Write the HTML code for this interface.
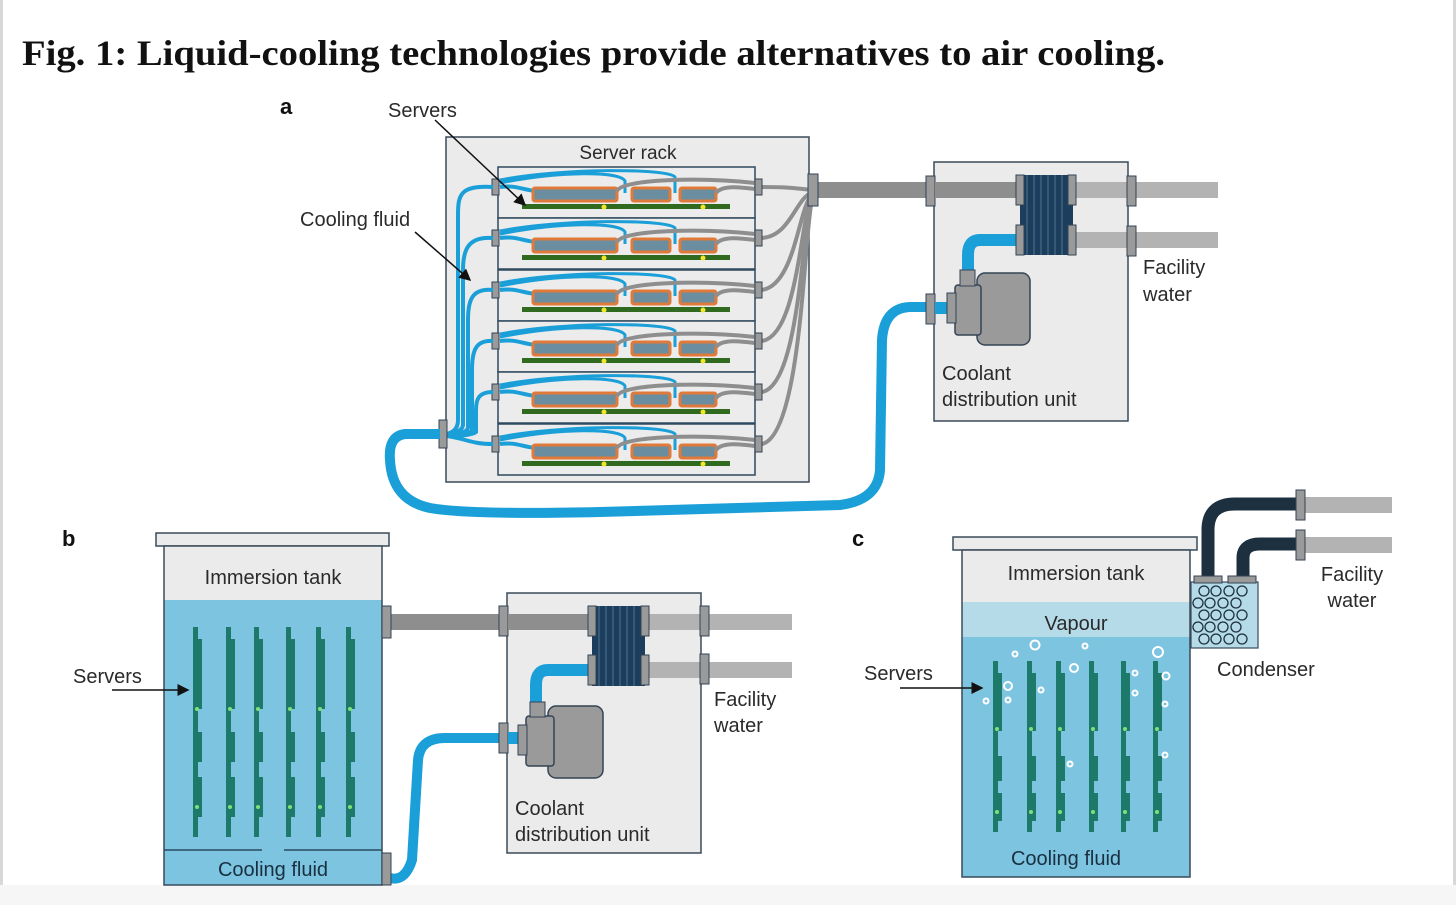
<!DOCTYPE html>
<html><head><meta charset="utf-8"><style>
html,body{margin:0;padding:0;background:#fff;}
svg{display:block;}
text{font-family:"Liberation Sans",sans-serif;fill:#2a2a2a;}
</style></head><body>
<svg width="1456" height="905" viewBox="0 0 1456 905" xmlns="http://www.w3.org/2000/svg">
<defs>
<marker id="ar" markerWidth="8" markerHeight="8" refX="7" refY="4" orient="auto"><path d="M0,0 L8,4 L0,8 Z" fill="#111"/></marker>
<g id="row">
 <rect x="498" y="0" width="257" height="51" fill="#ececec" stroke="#2e4a5e" stroke-width="1.5"/>
 <rect x="522" y="37" width="208" height="5" fill="#2f6a1f"/>
 <path d="M500,16 C560,4 620,4 625,14 L625,26 M500,13 C560,1 668,1 675,10 L675,26" fill="none" stroke="#1b9fd8" stroke-width="3"/>
 <path d="M500,20 C515,18 520,22 535,24" fill="none" stroke="#1b9fd8" stroke-width="4"/>
 <rect x="533" y="21" width="84" height="13" fill="#6a8ea0" stroke="#e07a3a" stroke-width="3" rx="2"/>
 <rect x="632" y="21" width="38" height="13" fill="#6a8ea0" stroke="#e07a3a" stroke-width="3" rx="2"/>
 <rect x="680" y="21" width="36" height="13" fill="#6a8ea0" stroke="#e07a3a" stroke-width="3" rx="2"/>
 <path d="M617,24 C622,12 700,10 755,16 M716,26 C722,18 740,20 755,22" fill="none" stroke="#8e8e8e" stroke-width="4"/>
 <circle cx="604" cy="40" r="2.5" fill="#f2e62a"/><circle cx="703" cy="40" r="2.5" fill="#f2e62a"/>
 <rect x="492" y="12" width="7" height="16" fill="#9a9a9a" stroke="#345" stroke-width="1"/>
 <rect x="755" y="12" width="7" height="16" fill="#9a9a9a" stroke="#345" stroke-width="1"/>
</g>
<g id="board">
 <rect x="0" y="0" width="5" height="210" fill="#1d7a6a"/>
 <rect x="0" y="12" width="9" height="70" fill="#1d7a6a"/>
 <rect x="0" y="105" width="9" height="30" fill="#1d7a6a"/>
 <rect x="0" y="150" width="9" height="40" fill="#1d7a6a"/>
 <circle cx="4" cy="82" r="2" fill="#7ee07a"/><circle cx="4" cy="180" r="2" fill="#7ee07a"/>
</g>
<g id="board2">
 <rect x="0" y="0" width="5" height="171" fill="#1d7a6a"/>
 <rect x="0" y="12" width="9" height="58" fill="#1d7a6a"/>
 <rect x="0" y="95" width="9" height="25" fill="#1d7a6a"/>
 <rect x="0" y="132" width="9" height="28" fill="#1d7a6a"/>
 <circle cx="4" cy="68" r="2" fill="#7ee07a"/><circle cx="4" cy="151" r="2" fill="#7ee07a"/>
</g>
</defs>
<rect x="0" y="0" width="3" height="905" fill="#d8d8d8"/>
<rect x="1453" y="0" width="3" height="905" fill="#d8d8d8"/>
<rect x="0" y="885" width="1456" height="20" fill="#f6f6f6"/>
<text x="22" y="65" style="font-family:'Liberation Serif',serif;font-weight:bold;font-size:36px;fill:#111" textLength="1143" lengthAdjust="spacingAndGlyphs">Fig. 1: Liquid-cooling technologies provide alternatives to air cooling.</text>

<!-- Panel a -->
<text x="280" y="114" style="font-weight:bold;font-size:22px;fill:#111">a</text>
<text x="388" y="117" font-size="20">Servers</text>
<text x="300" y="226" font-size="20">Cooling fluid</text>
<rect x="446" y="137" width="363" height="345" fill="#ebebeb" stroke="#3a4a5a" stroke-width="1.5"/>
<text x="628" y="159" font-size="19" text-anchor="middle">Server rack</text>
<g fill="none" stroke="#8e8e8e" stroke-width="4">
<path d="M762,187 C785,187 795,188 812,190"/>
<path d="M762,238 C790,236 795,200 812,192"/>
<path d="M762,290 C795,285 798,210 812,194"/>
<path d="M762,341 C798,335 800,220 812,196"/>
<path d="M762,392 C800,385 802,225 812,198"/>
<path d="M762,444 C802,435 804,230 812,200"/>
</g>
<use href="#row" y="167"/><use href="#row" y="218"/><use href="#row" y="270"/>
<use href="#row" y="321"/><use href="#row" y="372"/><use href="#row" y="424"/>
<g fill="none" stroke="#1b9fd8" stroke-width="4">
<path d="M493,187 C460,185 458,195 458,215 L458,420 Q458,432 446,434"/>
<path d="M493,238 C468,236 463,250 463,270 L463,425 Q462,433 446,434"/>
<path d="M493,290 C472,288 468,300 468,320 L468,428 Q466,434 446,435"/>
<path d="M493,341 C476,340 472,350 472,370 L472,430 Q470,435 446,435"/>
<path d="M493,392 C478,392 476,400 476,410 L476,432 Q472,436 446,436"/>
<path d="M493,444 C470,444 465,438 446,436"/>
</g>
<rect x="439" y="420" width="8" height="28" fill="#9a9a9a" stroke="#345"/>
<path d="M440,434 L405,434 Q388,436 390,460 Q392,500 430,508 Q470,515 600,512 L840,505 Q878,500 880,470 L882,340 Q884,308 910,307 L932,307" fill="none" stroke="#1b9fd8" stroke-width="10"/>
<line x1="435" y1="120" x2="525" y2="205" stroke="#111" stroke-width="1.5" marker-end="url(#ar)"/>
<line x1="415" y1="232" x2="470" y2="280" stroke="#111" stroke-width="1.5" marker-end="url(#ar)"/>
<rect x="815" y="182" width="115" height="16" fill="#8e8e8e"/>
<rect x="808" y="174" width="10" height="32" fill="#9a9a9a" stroke="#345"/>
<rect x="934" y="162" width="194" height="259" fill="#ebebeb" stroke="#3a4a5a" stroke-width="1.5"/>
<rect x="926" y="176" width="9" height="30" fill="#9a9a9a" stroke="#345"/>
<rect x="935" y="182" width="85" height="16" fill="#8e8e8e"/>
<rect x="1075" y="182" width="143" height="16" fill="#b3b3b3"/>
<rect x="1075" y="232" width="143" height="16" fill="#b3b3b3"/>
<rect x="1127" y="176" width="9" height="30" fill="#9a9a9a" stroke="#345"/>
<rect x="1127" y="226" width="9" height="30" fill="#9a9a9a" stroke="#345"/>
<path d="M1020,240 L980,240 Q968,240 968,255 L968,275" fill="none" stroke="#1b9fd8" stroke-width="12"/>
<rect x="1020" y="175" width="53" height="80" fill="#1d3d5c"/>
<g stroke="#4d7596" stroke-width="1"><line x1="1027" y1="175" x2="1027" y2="255"/><line x1="1034" y1="175" x2="1034" y2="255"/><line x1="1041" y1="175" x2="1041" y2="255"/><line x1="1048" y1="175" x2="1048" y2="255"/><line x1="1055" y1="175" x2="1055" y2="255"/><line x1="1062" y1="175" x2="1062" y2="255"/></g>
<rect x="1016" y="175" width="8" height="30" fill="#9a9a9a" stroke="#345"/><rect x="1068" y="175" width="8" height="30" fill="#9a9a9a" stroke="#345"/>
<rect x="1016" y="225" width="8" height="30" fill="#9a9a9a" stroke="#345"/><rect x="1068" y="225" width="8" height="30" fill="#9a9a9a" stroke="#345"/>
<rect x="926" y="294" width="9" height="30" fill="#9a9a9a" stroke="#345"/>
<rect x="935" y="302" width="16" height="12" fill="#1b9fd8"/>
<rect x="977" y="273" width="53" height="72" rx="8" fill="#9a9a9a" stroke="#345" stroke-width="1.5"/>
<rect x="955" y="285" width="26" height="50" rx="3" fill="#9a9a9a" stroke="#345" stroke-width="1.5"/>
<rect x="960" y="270" width="15" height="16" fill="#9a9a9a" stroke="#345"/>
<rect x="947" y="293" width="9" height="30" fill="#9a9a9a" stroke="#345"/>
<text x="1143" y="274" font-size="20">Facility</text><text x="1143" y="301" font-size="20">water</text>
<text x="942" y="380" font-size="20">Coolant</text><text x="942" y="406" font-size="20">distribution unit</text>

<!-- Panel b -->
<text x="62" y="546" style="font-weight:bold;font-size:22px;fill:#111">b</text>
<rect x="156" y="533" width="233" height="13" fill="#ebebeb" stroke="#3a4a5a" stroke-width="1.5"/>
<rect x="164" y="546" width="218" height="54" fill="#ebebeb"/>
<rect x="164" y="600" width="218" height="285" fill="#7cc4e0"/>
<rect x="164" y="546" width="218" height="339" fill="none" stroke="#3a4a5a" stroke-width="1.5"/>
<path d="M164,850 L262,850 M284,850 L382,850" stroke="#2a4a60" stroke-width="1.5"/>
<text x="273" y="584" font-size="20" text-anchor="middle">Immersion tank</text>
<text x="273" y="876" font-size="20" text-anchor="middle" style="fill:#1a3040">Cooling fluid</text>
<use href="#board" x="193" y="627"/><use href="#board" x="226" y="627"/><use href="#board" x="254" y="627"/>
<use href="#board" x="286" y="627"/><use href="#board" x="316" y="627"/><use href="#board" x="346" y="627"/>
<text x="73" y="683" font-size="20">Servers</text>
<line x1="112" y1="690" x2="188" y2="690" stroke="#111" stroke-width="1.5" marker-end="url(#ar)"/>
<rect x="389" y="614" width="112" height="16" fill="#8e8e8e"/>
<rect x="382" y="606" width="9" height="32" fill="#9a9a9a" stroke="#345"/>
<path d="M390,878 Q405,882 412,860 L418,760 Q420,738 445,738 L500,738" fill="none" stroke="#1b9fd8" stroke-width="10"/>
<rect x="382" y="853" width="9" height="32" fill="#9a9a9a" stroke="#345"/>
<rect x="507" y="593" width="194" height="260" fill="#ebebeb" stroke="#3a4a5a" stroke-width="1.5"/>
<rect x="499" y="606" width="9" height="30" fill="#9a9a9a" stroke="#345"/>
<rect x="508" y="614" width="84" height="16" fill="#8e8e8e"/>
<rect x="645" y="614" width="147" height="16" fill="#b3b3b3"/>
<rect x="645" y="662" width="147" height="16" fill="#b3b3b3"/>
<rect x="700" y="606" width="9" height="30" fill="#9a9a9a" stroke="#345"/>
<rect x="700" y="654" width="9" height="30" fill="#9a9a9a" stroke="#345"/>
<path d="M592,670 L548,670 Q536,670 536,685 L536,706" fill="none" stroke="#1b9fd8" stroke-width="12"/>
<rect x="592" y="606" width="53" height="80" fill="#1d3d5c"/>
<g stroke="#4d7596" stroke-width="1"><line x1="599" y1="606" x2="599" y2="686"/><line x1="606" y1="606" x2="606" y2="686"/><line x1="613" y1="606" x2="613" y2="686"/><line x1="620" y1="606" x2="620" y2="686"/><line x1="627" y1="606" x2="627" y2="686"/><line x1="634" y1="606" x2="634" y2="686"/></g>
<rect x="588" y="606" width="8" height="30" fill="#9a9a9a" stroke="#345"/><rect x="641" y="606" width="8" height="30" fill="#9a9a9a" stroke="#345"/>
<rect x="588" y="655" width="8" height="30" fill="#9a9a9a" stroke="#345"/><rect x="641" y="655" width="8" height="30" fill="#9a9a9a" stroke="#345"/>
<rect x="499" y="723" width="9" height="30" fill="#9a9a9a" stroke="#345"/>
<rect x="508" y="732" width="14" height="12" fill="#1b9fd8"/>
<rect x="548" y="706" width="55" height="72" rx="8" fill="#9a9a9a" stroke="#345" stroke-width="1.5"/>
<rect x="526" y="716" width="28" height="50" rx="3" fill="#9a9a9a" stroke="#345" stroke-width="1.5"/>
<rect x="530" y="702" width="15" height="15" fill="#9a9a9a" stroke="#345"/>
<rect x="518" y="725" width="9" height="30" fill="#9a9a9a" stroke="#345"/>
<text x="714" y="706" font-size="20">Facility</text><text x="714" y="732" font-size="20">water</text>
<text x="515" y="815" font-size="20">Coolant</text><text x="515" y="841" font-size="20">distribution unit</text>

<!-- Panel c -->
<text x="852" y="546" style="font-weight:bold;font-size:22px;fill:#111">c</text>
<path d="M1208,580 L1208,530 Q1208,504 1235,504 L1300,504" fill="none" stroke="#1c3040" stroke-width="13"/>
<path d="M1243,580 L1243,558 Q1243,544 1260,544 L1300,544" fill="none" stroke="#1c3040" stroke-width="13"/>
<rect x="1302" y="497" width="90" height="16" fill="#b3b3b3"/>
<rect x="1302" y="537" width="90" height="16" fill="#b3b3b3"/>
<rect x="1296" y="490" width="9" height="30" fill="#9a9a9a" stroke="#345"/>
<rect x="1296" y="530" width="9" height="30" fill="#9a9a9a" stroke="#345"/>
<rect x="953" y="537" width="244" height="13" fill="#ebebeb" stroke="#3a4a5a" stroke-width="1.5"/>
<rect x="962" y="550" width="228" height="52" fill="#ebebeb"/>
<rect x="962" y="602" width="228" height="35" fill="#b6dbe8"/>
<rect x="962" y="637" width="228" height="240" fill="#7cc4e0"/>
<rect x="962" y="550" width="228" height="327" fill="none" stroke="#3a4a5a" stroke-width="1.5"/>
<text x="1076" y="580" font-size="20" text-anchor="middle">Immersion tank</text>
<text x="1076" y="630" font-size="20" text-anchor="middle">Vapour</text>
<text x="1066" y="865" font-size="20" text-anchor="middle" style="fill:#1a3040">Cooling fluid</text>
<use href="#board2" x="993" y="661"/>
<use href="#board2" x="1027" y="661"/><use href="#board2" x="1056" y="661"/>
<use href="#board2" x="1089" y="661"/><use href="#board2" x="1121" y="661"/><use href="#board2" x="1153" y="661"/>
<g fill="none" stroke="#fff" stroke-width="2">
<circle cx="1035" cy="645" r="4.5"/><circle cx="1015" cy="654" r="2.5"/><circle cx="1085" cy="646" r="2.5"/><circle cx="1158" cy="652" r="5"/>
<circle cx="1074" cy="668" r="4"/><circle cx="1008" cy="686" r="4"/><circle cx="986" cy="701" r="2.5"/><circle cx="1008" cy="700" r="2.5"/>
<circle cx="1041" cy="690" r="2.5"/><circle cx="1135" cy="673" r="2.5"/><circle cx="1135" cy="693" r="2.5"/><circle cx="1166" cy="676" r="3.5"/>
<circle cx="1165" cy="704" r="2.5"/><circle cx="1070" cy="764" r="2.5"/><circle cx="1165" cy="755" r="2.5"/>
</g>
<rect x="1191" y="582" width="67" height="66" fill="#b6dbe8" stroke="#3a4a5a" stroke-width="1.2"/>
<rect x="1194" y="576" width="28" height="7" fill="#9a9a9a" stroke="#345"/><rect x="1228" y="576" width="28" height="7" fill="#9a9a9a" stroke="#345"/>
<g fill="none" stroke="#1c3040" stroke-width="1.3">
<circle cx="1204" cy="591" r="5"/><circle cx="1216" cy="591" r="5"/><circle cx="1229" cy="591" r="5"/><circle cx="1242" cy="591" r="5"/>
<circle cx="1198" cy="603" r="5"/><circle cx="1210" cy="603" r="5"/><circle cx="1223" cy="603" r="5"/><circle cx="1236" cy="603" r="5"/>
<circle cx="1204" cy="615" r="5"/><circle cx="1216" cy="615" r="5"/><circle cx="1229" cy="615" r="5"/><circle cx="1242" cy="615" r="5"/>
<circle cx="1198" cy="627" r="5"/><circle cx="1210" cy="627" r="5"/><circle cx="1223" cy="627" r="5"/><circle cx="1236" cy="627" r="5"/>
<circle cx="1204" cy="639" r="5"/><circle cx="1216" cy="639" r="5"/><circle cx="1229" cy="639" r="5"/><circle cx="1242" cy="639" r="5"/>
</g>
<text x="1352" y="581" font-size="20" text-anchor="middle">Facility</text><text x="1352" y="607" font-size="20" text-anchor="middle">water</text>
<text x="1217" y="676" font-size="20">Condenser</text>
<text x="864" y="680" font-size="20">Servers</text>
<line x1="900" y1="688" x2="982" y2="688" stroke="#111" stroke-width="1.5" marker-end="url(#ar)"/>
</svg>
</body></html>
